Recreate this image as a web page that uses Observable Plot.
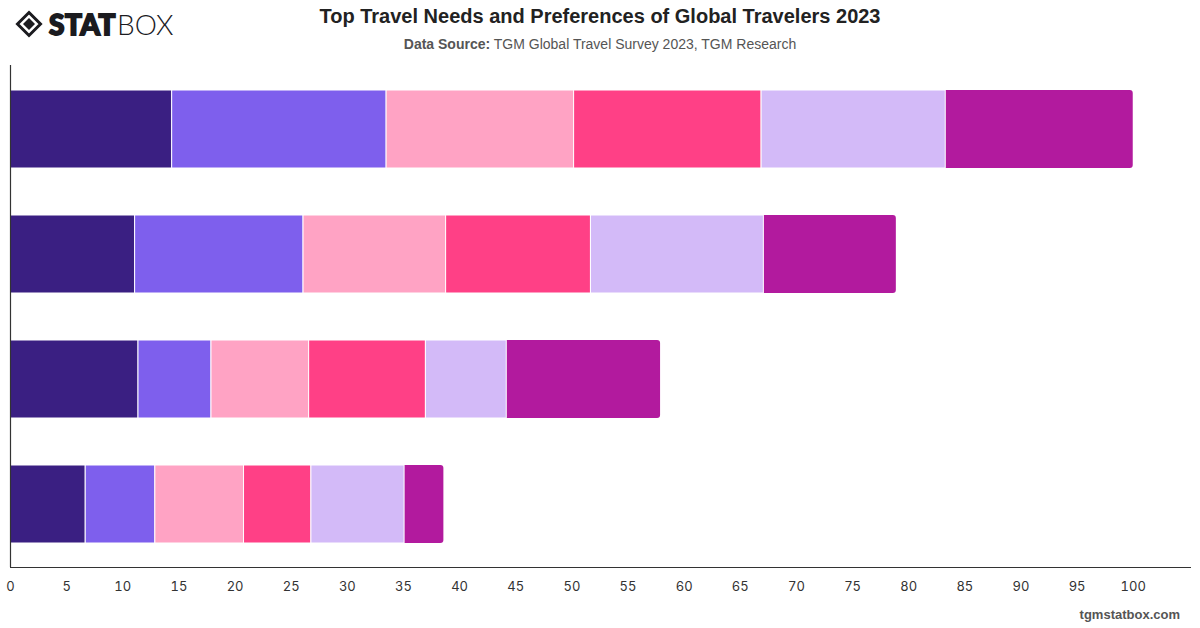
<!DOCTYPE html>
<html>
<head>
<meta charset="utf-8">
<script src="https://cdn.jsdelivr.net/npm/d3@7"></script>
<script src="https://cdn.jsdelivr.net/npm/@observablehq/plot@0.6"></script>
<style>
  html, body { margin: 0; padding: 0; background: #fff; }
  #wrap { position: relative; width: 1200px; height: 628px; overflow: hidden; font-family: "Liberation Sans", Arial, sans-serif; }
  #header { height: 60px; position: relative; }
  #title { position: absolute; left: 0; width: 1200px; top: 5px; text-align: center; font-size: 20px; font-weight: bold; color: #222; }
  #subtitle { position: absolute; left: 0; width: 1200px; top: 36px; text-align: center; font-size: 14px; color: #555; }
  #subtitle b { color: #555; }
  #logo { position: absolute; left: 15px; top: 7px; display: flex; align-items: center; }
  #logo .stat { font-family: Lato, sans-serif; font-weight: 900; font-size: 28px; color: #1b1b1f; -webkit-text-stroke: 1.8px #1b1b1f; margin-left: 6px; letter-spacing: 0.5px; }
  #logo .box { font-family: Lato, sans-serif; font-weight: 300; font-size: 28px; color: #1b1b1f; margin-left: 1px; }
  #footer { position: absolute; right: 20px; top: 607px; font-size: 13px; font-weight: bold; color: #555; }
</style>
</head>
<body>
<div id="wrap">
  <div id="header">
    <div id="logo">
      <svg width="28" height="28" viewBox="0 0 28 28">
        <path d="M14 2.5 L25.5 14 L14 25.5 L2.5 14 Z" fill="none" stroke="#1b1b1f" stroke-width="3"/>
        <path d="M14 8 L20 14 L14 20 L8 14 Z" fill="#1b1b1f"/>
      </svg>
      <span class="stat">STAT</span><span class="box">BOX</span>
    </div>
    <div id="title">Top Travel Needs and Preferences of Global Travelers 2023</div>
    <div id="subtitle"><b>Data Source:</b> TGM Global Travel Survey 2023, TGM Research</div>
  </div>
  <div id="chart"></div>
  <div id="footer">tgmstatbox.com</div>
</div>
<script>
const groups = ["Group 1", "Group 2", "Group 3", "Group 4"];
const seriesNames = ["Series 1", "Series 2", "Series 3", "Series 4", "Series 5", "Series 6"];
const series1 = [14.4, 11.1, 11.4, 6.7];
const series2 = [19.1, 15.0, 6.5, 6.2];
const series3 = [16.7, 12.7, 8.7, 7.9];
const series4 = [16.7, 12.9, 10.4, 6.0];
const series5 = [16.4, 15.4, 7.2, 8.3];
const series6 = [16.7, 11.8, 13.7, 3.5];
const colors = ["#3a1f82", "#7e5fed", "#ffa3c4", "#ff4086", "#d3baf8", "#b21a9e"];
const xTicks = d3.range(0, 101, 5);

const allSeries = [series1, series2, series3, series4, series5, series6];
const data = [];
allSeries.forEach((vals, si) => {
  vals.forEach((v, gi) => data.push({group: groups[gi], series: seriesNames[si], value: v}));
});
const lastSeries = seriesNames[seriesNames.length - 1];

const chart = Plot.plot({
  width: 1200,
  height: 568,
  marginTop: 5,
  marginBottom: 61,
  marginLeft: 10,
  marginRight: 10,
  style: {fontFamily: "Inter, 'Liberation Sans', sans-serif", fontSize: "13px", color: "#333", background: "#fff"},
  x: {domain: [0, 105.1], ticks: xTicks, tickSize: 0, tickPadding: 14, label: null, line: true},
  y: {domain: groups, paddingInner: 0.376, paddingOuter: 0.188, axis: null},
  color: {domain: seriesNames, range: colors},
  marks: [
    // full-length bar in the last series' colour, rounded at its right end
    Plot.barX(data, Plot.groupY({x: "sum"}, {x: "value", y: "group", fill: colors[5], rx: 3})),
    // stacked segments (all but the last, which shows through from the rounded bar)
    Plot.barX(data, Plot.stackX({x: "value", y: "group", fill: "series", stroke: "#fff", strokeWidth: 1, filter: d => d.series !== lastSeries})),
    Plot.ruleX([0], {stroke: "#333", strokeWidth: 1.2})
  ]
});
document.getElementById("chart").appendChild(chart);
</script>
</body>
</html>
